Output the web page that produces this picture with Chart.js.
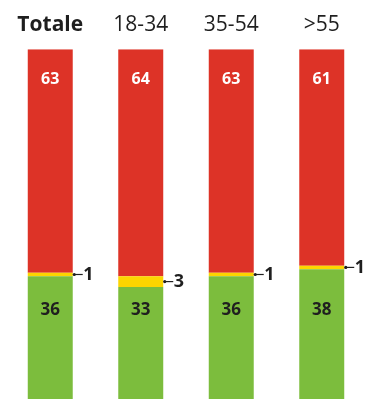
<!DOCTYPE html>
<html>
<head>
<meta charset="utf-8">
<script src="https://cdn.jsdelivr.net/npm/chart.js@4.4.1/dist/chart.umd.min.js"></script>
<style>
  html, body { margin: 0; padding: 0; background: #fff; overflow: hidden; width: 368px; height: 399px; }
  #wrap { width: 368px; height: 405px; }
</style>
</head>
<body>
<div id="wrap"><canvas id="c" width="368" height="405"></canvas></div>
<script>
const categories = ['Totale', '18-34', '35-54', '>55'];
const greenValues = [36, 33, 36, 38];
const yellowValues = [1, 3, 1, 1];
const redValues = [63, 64, 63, 61];

const RED = '#dd3327';
const YELLOW = '#fdd500';
const GREEN = '#7cbd3d';
const INK = '#1f1f1f';

const labelPlugin = {
  id: 'segLabels',
  afterDatasetsDraw(chart) {
    const ctx = chart.ctx;
    const yScale = chart.scales.y;
    ctx.save();
    ctx.textAlign = 'center';
    ctx.textBaseline = 'middle';
    const redMeta = chart.getDatasetMeta(2);
    redMeta.data.forEach((bar, i) => {
      ctx.font = 'bold 16px "Open Sans"';
      ctx.fillStyle = '#ffffff';
      ctx.fillText(String(redValues[i]), bar.x, bar.y + 30);
    });
    const greenMeta = chart.getDatasetMeta(0);
    greenMeta.data.forEach((bar, i) => {
      ctx.font = 'bold 17px "Open Sans"';
      ctx.fillStyle = INK;
      ctx.fillText(String(greenValues[i]), bar.x, yScale.getPixelForValue(26.4));
    });
    const yMeta = chart.getDatasetMeta(1);
    yMeta.data.forEach((bar, i) => {
      const yMid = (bar.y + bar.base) / 2;
      const x0 = bar.x + bar.width / 2;
      ctx.strokeStyle = INK;
      ctx.fillStyle = INK;
      ctx.lineWidth = 1.2;
      ctx.beginPath();
      ctx.arc(x0 + 1.5, yMid, 1.6, 0, Math.PI * 2);
      ctx.fill();
      ctx.beginPath();
      ctx.moveTo(x0 + 1.5, yMid);
      ctx.lineTo(x0 + 10, yMid);
      ctx.stroke();
      ctx.font = 'bold 18px "Open Sans"';
      ctx.textAlign = 'left';
      ctx.fillText(String(yellowValues[i]), x0 + 10.5, yMid);
    });
    ctx.restore();
  }
};

new Chart(document.getElementById('c'), {
  type: 'bar',
  data: {
    labels: categories,
    datasets: [
      { label: 'green', data: greenValues, backgroundColor: GREEN },
      { label: 'yellow', data: yellowValues, backgroundColor: YELLOW },
      { label: 'red', data: redValues, backgroundColor: RED }
    ]
  },
  options: {
    responsive: false,
    animation: false,
    devicePixelRatio: 1,
    layout: { padding: { left: 5, right: 1, top: 0, bottom: 1 } },
    plugins: { legend: { display: false }, tooltip: { enabled: false } },
    datasets: { bar: { barPercentage: 1, categoryPercentage: 0.497, borderWidth: 0 } },
    scales: {
      x: {
        stacked: true,
        position: 'top',
        grid: { display: false, drawTicks: false },
        border: { display: false },
        ticks: {
          color: INK,
          padding: 12,
          font: (c) => ({ family: '"Open Sans"', size: 21, weight: c.index === 0 ? 'bold' : 'normal' })
        }
      },
      y: {
        stacked: true,
        display: false,
        min: 0,
        max: 100
      }
    }
  },
  plugins: [labelPlugin]
});
</script>
</body>
</html>
